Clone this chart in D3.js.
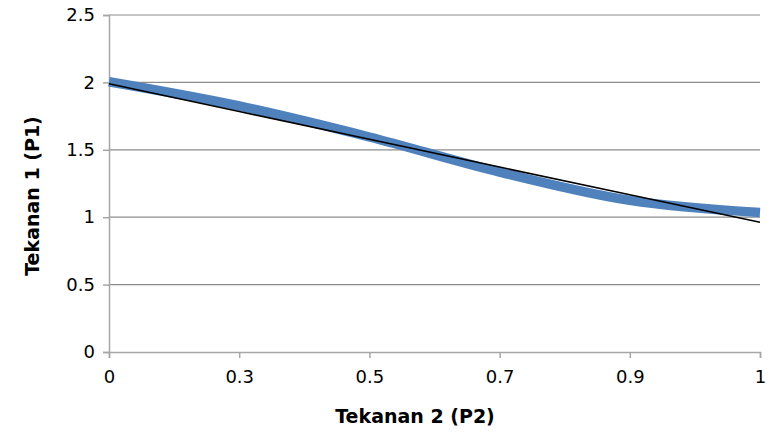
<!DOCTYPE html>
<html>
<head>
<meta charset="utf-8">
<script src="https://cdn.jsdelivr.net/npm/d3@7/dist/d3.min.js"></script>
<style>
  html, body { margin: 0; padding: 0; background: #fff; }
  svg { display: block; font-family: "DejaVu Sans", sans-serif; }
</style>
</head>
<body>
<svg id="chart" width="774" height="436"></svg>
<script>
// Data
const categories = ["0", "0.3", "0.5", "0.7", "0.9", "1"];
const seriesP1 = [2.005, 1.825, 1.595, 1.335, 1.125, 1.035];
const trendP1 = [1.99, 1.784, 1.578, 1.372, 1.166, 0.962];
const yTicks = [0, 0.5, 1, 1.5, 2, 2.5];
const xTitle = "Tekanan 2 (P2)";
const yTitle = "Tekanan 1 (P1)";

const svg = d3.select("#chart");
const margin = { left: 109, right: 14, top: 15, bottom: 84 };
const W = 774, H = 436;

const x = d3.scalePoint().domain(categories).range([margin.left, W - margin.right]);
const y = d3.scaleLinear().domain([0, 2.5]).range([H - margin.bottom, margin.top]);

// gridlines
svg.append("g").selectAll("line").data(yTicks.filter(d => d > 0)).join("line")
  .attr("x1", margin.left).attr("x2", W - margin.right)
  .attr("y1", d => y(d)).attr("y2", d => y(d))
  .attr("stroke", "#8c8c8c").attr("stroke-width", 1.2);

// y axis
const yAxis = svg.append("g").attr("transform", `translate(${margin.left},0)`)
  .call(d3.axisLeft(y).tickValues(yTicks).tickFormat(d3.format("")).tickSize(6).tickPadding(8));
yAxis.select(".domain").attr("stroke", "#a6a6a6").attr("stroke-width", 1.5);
yAxis.selectAll(".tick line").attr("stroke", "#a6a6a6").attr("stroke-width", 1.5);
yAxis.selectAll("text").attr("font-size", 18).attr("fill", "#000").attr("font-family", "DejaVu Sans");

// x axis
const xAxis = svg.append("g").attr("transform", `translate(0,${y(0)})`)
  .call(d3.axisBottom(x).tickSize(6).tickPadding(12));
xAxis.select(".domain").attr("stroke", "#a6a6a6").attr("stroke-width", 1.5);
xAxis.selectAll(".tick line").attr("stroke", "#a6a6a6").attr("stroke-width", 1.5);
xAxis.selectAll("text").attr("font-size", 18).attr("fill", "#000").attr("font-family", "DejaVu Sans");

// blue smoothed series
const line = d3.line().x((d, i) => x(categories[i])).y(d => y(d)).curve(d3.curveCatmullRom.alpha(0));
svg.append("path").datum(seriesP1).attr("d", line)
  .attr("fill", "none").attr("stroke", "#4f81bd").attr("stroke-width", 9.5);

// black trend line
const tline = d3.line().x((d, i) => x(categories[i])).y(d => y(d));
svg.append("path").datum(trendP1).attr("d", tline)
  .attr("fill", "none").attr("stroke", "#000").attr("stroke-width", 1.6);

// titles
svg.append("text").attr("x", 415).attr("y", 423).attr("text-anchor", "middle")
  .attr("font-size", 19).attr("font-weight", "bold").text(xTitle);
svg.append("text").attr("transform", "translate(39,196) rotate(-90)").attr("text-anchor", "middle")
  .attr("font-size", 19).attr("font-weight", "bold").text(yTitle);
</script>
</body>
</html>
